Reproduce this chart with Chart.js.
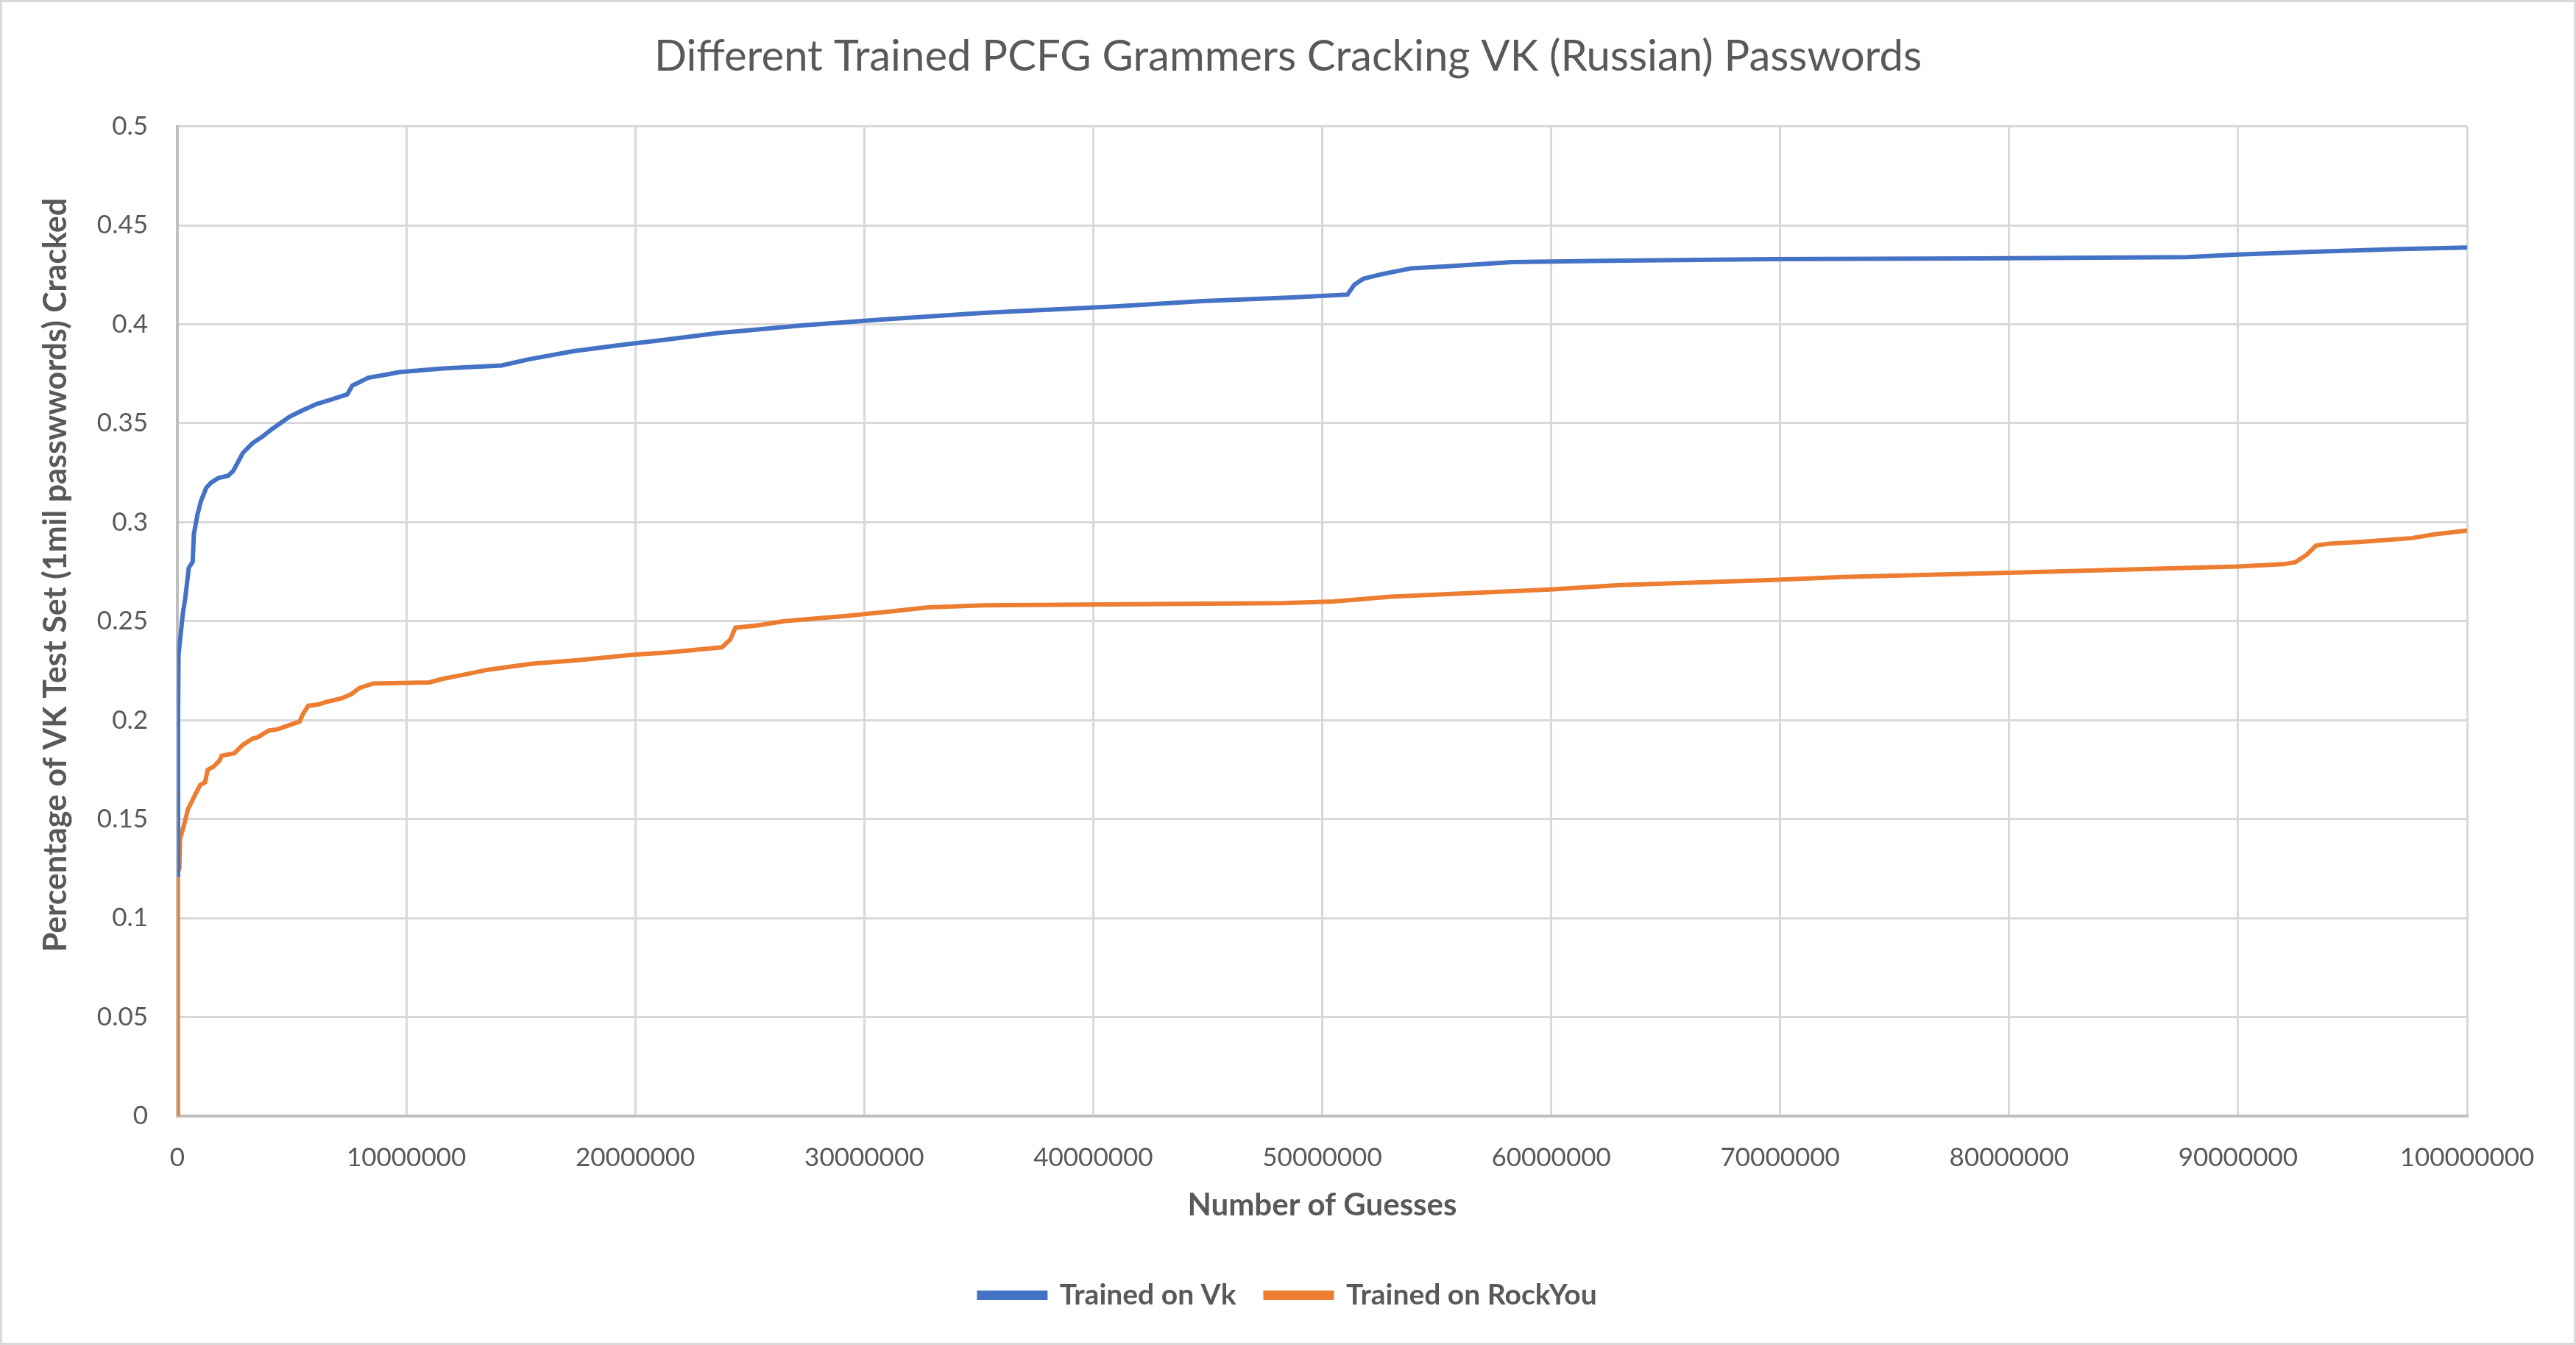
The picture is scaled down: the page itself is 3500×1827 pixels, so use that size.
<!DOCTYPE html>
<html>
<head>
<meta charset="utf-8">
<script src="https://cdn.jsdelivr.net/npm/chart.js@4.4.1/dist/chart.umd.min.js"></script>
<style>
  html, body { margin: 0; padding: 0; background: #fff; }
  #wrap { width: 3500px; height: 1827px; position: relative; }
</style>
</head>
<body>
<div id="wrap"><canvas id="myChart" width="3500" height="1827"></canvas></div>
<script>
// data (x = guesses, y = fraction cracked)
const vkGuesses = [0, 30000, 50000, 240000, 340000, 500000, 670000, 720000, 880000, 1040000, 1260000, 1470000,
    1790000, 2220000, 2440000, 2860000, 3290000, 3720000, 4150000, 4900000, 5440000, 6080000, 6730000, 7420000,
    7640000, 8340000, 9090000, 9680000, 11600000, 14160000, 15340000, 17300000, 19270000, 21430000, 23590000,
    27300000, 30660000, 35200000, 40800000, 44750000, 48700000, 51100000, 51400000, 51800000, 52600000, 53900000,
    55600000, 58300000, 62400000, 69700000, 78800000, 87800000, 90000000, 92800000, 96800000, 100000000];
const vkCracked = [0.122, 0.2, 0.233, 0.254, 0.2613, 0.277, 0.28, 0.294, 0.304, 0.311, 0.3174, 0.32,
    0.3223, 0.3235, 0.3259, 0.335, 0.34, 0.3433, 0.3472, 0.3533, 0.3564, 0.3597, 0.362, 0.3646,
    0.369, 0.373, 0.3745, 0.3758, 0.3777, 0.3792, 0.3823, 0.3864, 0.3894, 0.3924, 0.3955,
    0.3994, 0.4023, 0.4058, 0.4089, 0.4117, 0.4136, 0.415, 0.42, 0.423, 0.4253, 0.4283,
    0.4294, 0.4314, 0.4321, 0.4329, 0.4333, 0.4339, 0.4352, 0.4364, 0.4379, 0.4388];

const rockyouGuesses = [0, 20000, 86000, 118000, 300000, 460000, 620000, 780000, 1000000, 1210000, 1320000,
    1590000, 1850000, 1930000, 2490000, 2860000, 3290000, 3510000, 3990000, 4370000, 4900000, 5330000, 5490000,
    5710000, 6140000, 6510000, 7160000, 7590000, 7960000, 8550000, 11000000, 11600000, 12600000, 13570000,
    15500000, 17500000, 19860000, 21430000, 23780000, 24140000, 24370000, 25350000, 26500000, 29280000,
    31240000, 32800000, 35200000, 48300000, 50500000, 53000000, 60100000, 63000000, 69700000, 72750000,
    80000000, 90000000, 92000000, 92500000, 93000000, 93400000, 94000000, 95400000, 97600000, 98650000, 100000000];
const rockyouCracked = [0, 0.1228, 0.1252, 0.14, 0.1475, 0.155, 0.1587, 0.1624, 0.1673, 0.1686, 0.1748,
    0.1766, 0.1797, 0.182, 0.1833, 0.1876, 0.1907, 0.1914, 0.1947, 0.1954, 0.1975, 0.1992, 0.2032,
    0.2072, 0.2079, 0.2092, 0.211, 0.2131, 0.2163, 0.2185, 0.2191, 0.2209, 0.2232, 0.2255,
    0.2285, 0.2303, 0.233, 0.2342, 0.2368, 0.2406, 0.2467, 0.2479, 0.25, 0.2527,
    0.255, 0.257, 0.258, 0.2591, 0.26, 0.2624, 0.2661, 0.2682, 0.2708, 0.2723,
    0.2745, 0.2776, 0.2788, 0.2798, 0.2836, 0.2882, 0.2892, 0.2901, 0.292, 0.294, 0.2958];

const seriesNames = ['Trained on Vk', 'Trained on RockYou'];
const chartTitle = 'Different Trained PCFG Grammers Cracking VK (Russian) Passwords';
const xTitle = 'Number of Guesses';
const yTitle = 'Percentage of VK Test Set (1mil passwwords) Cracked';

const toPoints = (xs, ys) => xs.map((x, i) => ({ x: x, y: ys[i] }));

const textColor = '#595959';
const fontFamily = 'Lato, "Open Sans", sans-serif';

// white background + light border round the whole chart
const frame = {
    id: 'frame',
    beforeDraw(chart) {
        const c = chart.ctx;
        c.save();
        c.fillStyle = '#ffffff';
        c.fillRect(0, 0, chart.width, chart.height);
        c.strokeStyle = '#d9d9d9';
        c.lineWidth = 3;
        c.strokeRect(1.5, 1.5, chart.width - 3, chart.height - 3);
        c.restore();
    }
};

window.onload = function() {
    const ctx = document.getElementById('myChart').getContext('2d');
    new Chart(ctx, {
        type: 'line',
        data: {
            datasets: [{
                label: seriesNames[0],
                data: toPoints(vkGuesses, vkCracked),
                borderColor: '#4472C4',
                backgroundColor: '#4472C4',
                borderWidth: 6,
                pointRadius: 0,
                tension: 0,
                fill: false
            }, {
                label: seriesNames[1],
                data: toPoints(rockyouGuesses, rockyouCracked),
                borderColor: '#ED7D31',
                backgroundColor: '#ED7D31',
                borderWidth: 6,
                pointRadius: 0,
                tension: 0,
                fill: false
            }]
        },
        options: {
            responsive: false,
            animation: false,
            layout: { padding: { left: 0, right: 0, top: 0, bottom: 38 } },
            plugins: {
                title: {
                    display: true,
                    text: chartTitle,
                    color: textColor,
                    font: { family: fontFamily, size: 58, weight: 'normal' },
                    padding: { top: 42, bottom: 60 }
                },
                legend: {
                    position: 'bottom',
                    labels: {
                        color: textColor,
                        font: { family: fontFamily, size: 39, weight: 'bold' },
                        boxWidth: 90,
                        boxHeight: 7,
                        padding: 40
                    }
                },
                tooltip: { enabled: false }
            },
            scales: {
                x: {
                    type: 'linear',
                    min: 0,
                    max: 100000000,
                    ticks: {
                        stepSize: 10000000,
                        color: textColor,
                        padding: 36,
                        maxRotation: 0,
                        font: { family: fontFamily, size: 35 },
                        callback: v => String(v)
                    },
                    grid: { color: '#d9d9d9', lineWidth: 3, drawTicks: false },
                    border: { color: '#bfbfbf', width: 4 },
                    title: {
                        display: true,
                        text: xTitle,
                        color: textColor,
                        font: { family: fontFamily, size: 42, weight: 'bold' },
                        padding: { top: 0, bottom: 37 }
                    },
                    afterFit: scale => { scale.height = 184; }
                },
                y: {
                    min: 0,
                    max: 0.5,
                    ticks: {
                        stepSize: 0.05,
                        color: textColor,
                        padding: 40,
                        font: { family: fontFamily, size: 35 },
                        callback: v => String(Math.round(v * 100) / 100)
                    },
                    grid: { color: '#d9d9d9', lineWidth: 3, drawTicks: false },
                    border: { color: '#bfbfbf', width: 4 },
                    title: {
                        display: true,
                        // leading spaces: the reference title sits a bit above the plot centre
                        text: '            ' + yTitle,
                        color: textColor,
                        font: { family: fontFamily, size: 43, weight: 'bold' },
                        padding: { top: 50, bottom: 0 }
                    },
                    afterFit: scale => { scale.width = 241; }
                },
                // empty right-hand box that keeps the plot's right edge where the reference has it
                yRight: {
                    position: 'right',
                    grid: { display: false },
                    border: { display: false },
                    ticks: { display: false },
                    afterFit: scale => { scale.width = 148; }
                }
            }
        },
        plugins: [frame]
    });
};
</script>
</body>
</html>
